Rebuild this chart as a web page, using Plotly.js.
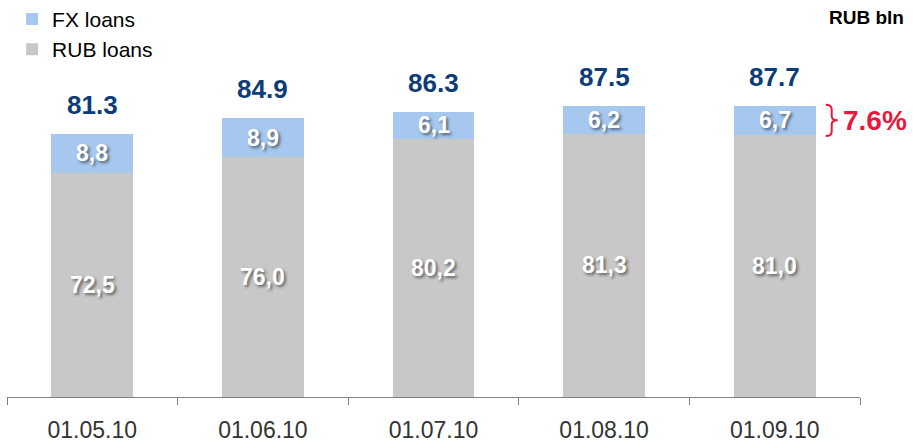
<!DOCTYPE html>
<html>
<head>
<meta charset="utf-8">
<script src="https://cdn.plot.ly/plotly-3.0.1.min.js"></script>
<style>
  html, body { margin: 0; padding: 0; background: #fff; }
  #chart { width: 913px; height: 445px; }
</style>
</head>
<body>
<div id="chart"></div>
<script>
// ---- data ----
const dates = ['01.05.10', '01.06.10', '01.07.10', '01.08.10', '01.09.10'];
const rubLoans = [72.5, 76.0, 80.2, 81.3, 81.0];
const fxLoans = [8.8, 8.9, 6.1, 6.2, 6.7];
const seriesNames = ['RUB loans', 'FX loans'];
const unitLabel = 'RUB bln';

// ---- style ----
const FONT = 'Liberation Sans, Arial, sans-serif';
const GRAY = '#c8c8c8';
const BLUE = '#a6c8ee';
const NAVY = '#0d3c78';
const RED = '#e8193c';
const Y_MIN = 21.7, Y_MAX = 111.6;

const totals = rubLoans.map((v, i) => v + fxLoans[i]);
const fmtComma = v => v.toFixed(1).replace('.', ',');
const shadow = '2px 2px 3px rgba(0,0,0,0.5)';

const traces = [
  { type: 'bar', name: seriesNames[0], x: dates, y: rubLoans,
    marker: { color: GRAY, line: { width: 0 } }, hoverinfo: 'skip' },
  { type: 'bar', name: seriesNames[1], x: dates, y: fxLoans,
    marker: { color: BLUE, line: { width: 0 } }, hoverinfo: 'skip' }
];

const annotations = [];
dates.forEach((d, i) => {
  annotations.push({ x: d, y: (Y_MIN + rubLoans[i]) / 2, text: fmtComma(rubLoans[i]),
    showarrow: false, xanchor: 'center', yanchor: 'middle',
    font: { family: FONT, size: 23, color: '#ffffff', weight: 'bold', shadow: shadow } });
  annotations.push({ x: d, y: rubLoans[i] + fxLoans[i] / 2, text: fmtComma(fxLoans[i]),
    showarrow: false, xanchor: 'center', yanchor: 'middle',
    font: { family: FONT, size: 23, color: '#ffffff', weight: 'bold', shadow: shadow } });
  annotations.push({ x: d, y: totals[i], text: totals[i].toFixed(1),
    showarrow: false, xanchor: 'center', yanchor: 'bottom', yshift: 12,
    font: { family: FONT, size: 26, color: NAVY, weight: 'bold' } });
});

const last = dates.length - 1;
const topV = totals[last], botV = rubLoans[last], midV = (topV + botV) / 2;
const share = fxLoans[last] / totals[last] * 100;

annotations.push({ x: dates[last], y: midV, xshift: 66, text: share.toFixed(1) + '%',
  showarrow: false, xanchor: 'left', yanchor: 'middle',
  font: { family: FONT, size: 28, color: RED, weight: 'bold' } });

annotations.push({ xref: 'paper', yref: 'paper', x: 1.054, y: 0.955, text: unitLabel,
  showarrow: false, xanchor: 'right', yanchor: 'middle',
  font: { family: FONT, size: 19, color: '#000000', weight: 'bold' } });

const c = 0.9;
const bracePath = `M 51,${topV + 0.2} Q 57,${topV + 0.2} 57,${topV - c} L 57,${midV + c} Q 57,${midV} 63,${midV} ` +
  `Q 57,${midV} 57,${midV - c} L 57,${botV + c} Q 57,${botV - 0.2} 51,${botV - 0.2}`;

const layout = {
  width: 913, height: 445,
  margin: { l: 7, r: 53, t: 0, b: 48, autoexpand: false },
  paper_bgcolor: '#ffffff', plot_bgcolor: '#ffffff',
  barmode: 'stack', bargap: 0.52,
  font: { family: FONT, color: '#000' },
  showlegend: true,
  legend: { xref: 'paper', yref: 'paper', x: 0.006, y: 1.003, xanchor: 'left', yanchor: 'top',
    traceorder: 'reversed', font: { family: FONT, size: 21, color: '#000' },
    bgcolor: 'rgba(0,0,0,0)', itemclick: false },
  xaxis: { type: 'category', range: [-0.5, dates.length - 0.5], autorange: false,
    showline: true, linecolor: '#808080', linewidth: 1,
    ticks: 'outside', tickson: 'boundaries', ticklen: 7, tickcolor: '#808080', tickwidth: 1,
    tickfont: { family: FONT, size: 23, color: '#333333' }, ticklabelstandoff: 12,
    showgrid: false, zeroline: false, fixedrange: true, automargin: false },
  yaxis: { visible: false, range: [Y_MIN, Y_MAX], autorange: false, showgrid: false, zeroline: false, fixedrange: true },
  annotations: annotations,
  shapes: [{ type: 'path', xref: 'x', yref: 'y', xsizemode: 'pixel', xanchor: last,
    path: bracePath, line: { color: RED, width: 2 } }]
};

Plotly.newPlot('chart', traces, layout, { displayModeBar: false, staticPlot: true });
</script>
</body>
</html>
